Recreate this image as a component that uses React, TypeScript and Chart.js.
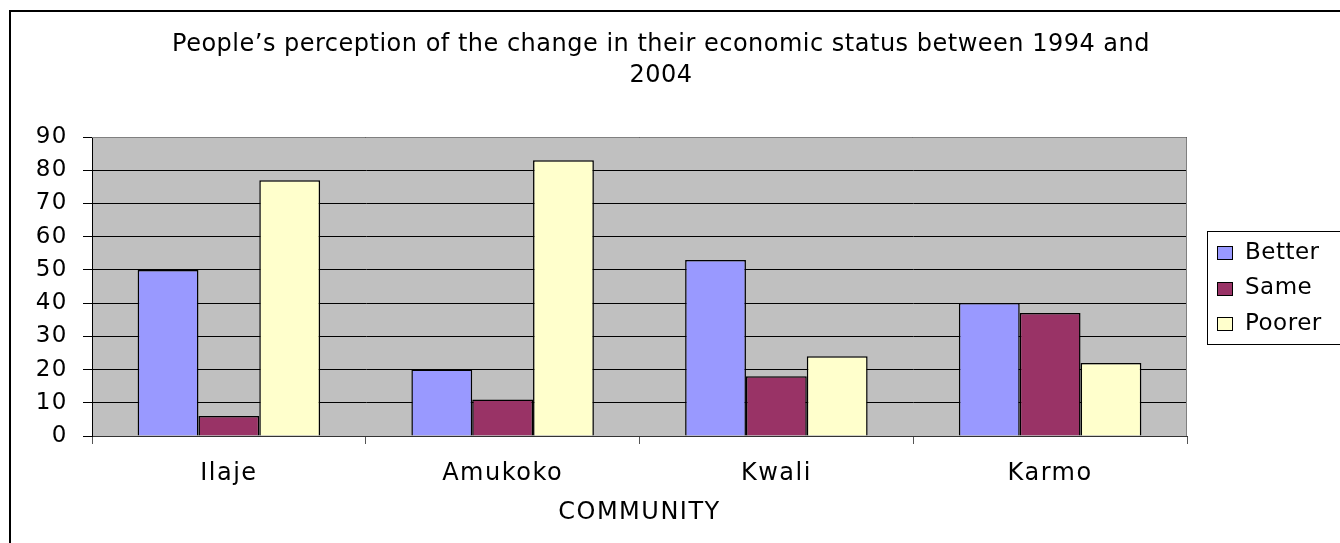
import React, { useEffect, useRef } from "react";
import { Chart, registerables } from "chart.js";

Chart.register(...registerables);

const titleLines = [
  "People\u2019s perception of the change in their economic status between 1994 and",
  "2004",
];
const categories = ["Ilaje", "Amukoko", "Kwali", "Karmo"];
const seriesNames = ["Better", "Same", "Poorer"];
const better = [50, 20, 53, 40];
const same = [6, 11, 18, 37];
const poorer = [77, 83, 24, 22];
const seriesColors = ["#9999FF", "#993366", "#FFFFCC"];
const yMin = 0;
const yMax = 90;
const yStep = 10;
const xAxisTitle = "COMMUNITY";

const FONT = "DejaVu Sans";

const decor = {
  id: "decor",
  beforeDraw(chart: any) {
    const { ctx, chartArea: a } = chart;
    ctx.save();
    ctx.fillStyle = "#ffffff";
    ctx.fillRect(0, 0, chart.width, chart.height);
    ctx.strokeStyle = "#000000";
    ctx.lineWidth = 2;
    ctx.strokeRect(10, 11, chart.width + 100, chart.height + 100);
    ctx.fillStyle = "#C0C0C0";
    ctx.fillRect(a.left, a.top, a.right - a.left, a.bottom - a.top);
    ctx.restore();
    (ctx as any).letterSpacing = "1.5px";
  },
  afterDraw(chart: any) {
    const { ctx, chartArea: a } = chart;
    ctx.save();
    // plot border (top & right)
    ctx.strokeStyle = "#808080";
    ctx.lineWidth = 1;
    ctx.beginPath();
    ctx.moveTo(a.left, a.top + 0.5);
    ctx.lineTo(a.right - 0.5, a.top + 0.5);
    ctx.lineTo(a.right - 0.5, a.bottom);
    ctx.stroke();
    // title
    ctx.fillStyle = "#000000";
    (ctx as any).letterSpacing = "0.5px";
    ctx.font = `24px "${FONT}"`;
    ctx.textAlign = "center";
    ctx.textBaseline = "middle";
    titleLines.forEach((t, i) => ctx.fillText(t, 661, 45 + i * 31));
    // legend
    const lx = 1207;
    const ly = 231;
    ctx.strokeStyle = "#000000";
    ctx.lineWidth = 1;
    ctx.strokeRect(lx + 0.5, ly + 0.5, 300, 113);
    ctx.textAlign = "left";
    ctx.font = `23px "${FONT}"`;
    chart.data.datasets.forEach((ds: any, i: number) => {
      const cy = ly + 21 + i * 35.5;
      const sy = Math.round(cy - 6);
      ctx.fillStyle = ds.backgroundColor;
      ctx.fillRect(lx + 10, sy, 15, 13);
      ctx.strokeStyle = "#000000";
      ctx.strokeRect(lx + 10.5, sy + 0.5, 15, 13);
      ctx.fillStyle = "#000000";
      ctx.fillText(ds.label, lx + 38, cy + 1);
    });
    ctx.restore();
  },
};

export default function App() {
  const ref = useRef<HTMLCanvasElement | null>(null);
  useEffect(() => {
    document.body.style.margin = "0";
    const values = [better, same, poorer];
    const chart = new Chart(ref.current as HTMLCanvasElement, {
      type: "bar",
      data: {
        labels: categories,
        datasets: seriesNames.map((name, i) => ({
          label: name,
          data: values[i],
          backgroundColor: seriesColors[i],
          borderColor: "#000000",
          borderWidth: 1.5,
          categoryPercentage: 3 / 4.5,
          barPercentage: 1,
        })),
      },
      options: {
        animation: false,
        responsive: true,
        maintainAspectRatio: false,
        layout: { padding: { top: 137, left: 0, right: 153, bottom: 0 } },
        plugins: {
          legend: { display: false },
          title: { display: false },
          tooltip: { enabled: false },
        },
        scales: {
          x: {
            afterFit: (s: any) => {
              s.height = 107;
            },
            grid: {
              display: true,
              drawOnChartArea: false,
              drawTicks: true,
              tickLength: 8,
              tickColor: "#555555",
              offset: true,
            },
            border: { display: true, color: "#333333", width: 1 },
            ticks: {
              color: "#000000",
              padding: 15,
              font: { family: FONT, size: 24 },
            },
            title: {
              display: true,
              text: xAxisTitle,
              color: "#000000",
              font: { family: FONT, size: 24 },
              padding: { top: 0, bottom: 16 },
            },
          },
          y: {
            min: yMin,
            max: yMax,
            afterFit: (s: any) => {
              s.width = 92;
            },
            ticks: {
              stepSize: yStep,
              color: "#000000",
              padding: 15,
              font: { family: FONT, size: 23 },
            },
            grid: {
              color: "#000000",
              lineWidth: 1,
              drawTicks: true,
              tickLength: 9,
              tickColor: "#000000",
            },
            border: { display: true, color: "#000000", width: 1 },
          },
        },
      },
      plugins: [decor],
    });
    return () => chart.destroy();
  }, []);
  return (
    <div style={{ position: "relative", width: 1340, height: 543 }}>
      <canvas ref={ref} />
    </div>
  );
}
